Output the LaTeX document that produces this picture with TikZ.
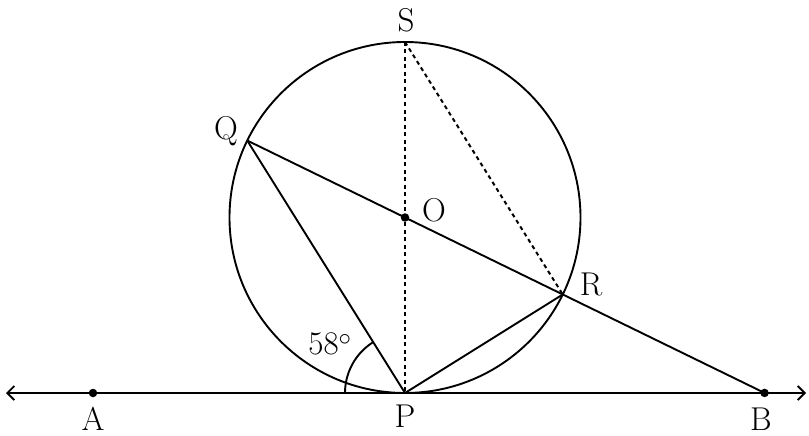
\documentclass[tikz,border=0pt]{standalone}
\usetikzlibrary{arrows.meta,calc}
\begin{document}
\begin{tikzpicture}[x=1pt,y=-1pt,
  geo/.style={line width=1.9pt},
  dotline/.style={line width=2pt,dash pattern=on 4pt off 3.5pt},
  pt/.style={circle,fill=black,inner sep=0pt,minimum size=8.5pt},
  lab/.style={font=\fontsize{33}{38}\selectfont,inner sep=0pt}]
\useasboundingbox (0,0) rectangle (809,436);
% key points
\coordinate (P) at (405,393);
\coordinate (O) at (405,217.5);
\coordinate (S) at (405,42);
\coordinate (Q) at ($(P)+({-297.7*cos(58)},{-297.7*sin(58)})$);
\coordinate (R) at ($(O)!-1!(Q)$);
\coordinate (Lend) at (6,393);
\coordinate (Rend) at (806,393);
\coordinate (B) at ($(Q)!{(393-140.5)/(294.5-140.5)}!(R)$);
\coordinate (A) at (93,393);
% circle
\draw[geo] (O) circle[radius=175.5pt];
% tangent line
\draw[geo,{Straight Barb[length=7pt,width=14pt]}-{Straight Barb[length=7pt,width=14pt]}] (Lend) -- (Rend);
% chords
\draw[geo] (Q) -- (B);
\draw[geo] (Q) -- (P);
\draw[geo] (P) -- (R);
\draw[dotline] (S) -- (P);
\draw[dotline] (S) -- (R);
% angle arc
\draw[geo] ($(P)+(-60,0)$) arc[start angle=180,end angle=122,radius=60pt];
% points
\node[pt] (nA) at (A) {};
\node[pt] (nB) at (B) {};
\node[pt] (nO) at (O) {};
% labels
\node[lab] (lS) at (406,20) {S};
\node[lab] (lQ) at (226,131) {Q};
\node[lab] (lO) at (434,210) {O};
\node[lab] (lR) at (591,284) {R};
\node[lab] (lA) at (93,419) {A};
\node[lab] (lP) at (405,416) {P};
\node[lab] (lB) at (761,419) {B};
\node[lab] (l58) at (330,344) {58$^\circ$};
\end{tikzpicture}
\end{document}
